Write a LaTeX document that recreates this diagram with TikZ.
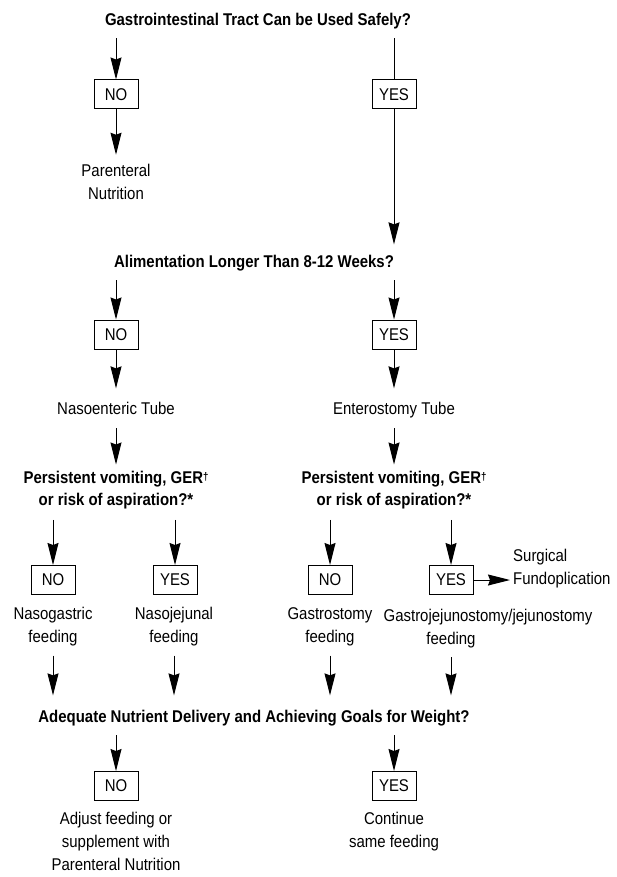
\documentclass[tikz,border=0pt]{standalone}
\usepackage{fontspec}
\setmainfont{Liberation Sans}[FakeStretch=0.88]
\usetikzlibrary{arrows.meta}
\newcommand{\sv}{\rule[-4pt]{0pt}{16.5pt}}
\newcommand{\dg}{\raisebox{3pt}{\fontsize{11}{11}\selectfont †}}
\begin{document}
\begin{tikzpicture}[x=1pt,y=-1pt,
  txt/.style={inner sep=0pt, align=center, font=\fontsize{17}{23}\selectfont},
  ttl/.style={inner sep=0pt, align=center, font=\fontsize{17}{22.5}\selectfont\bfseries},
  box/.style={draw, line width=1pt, minimum width=44pt, minimum height=29pt, inner sep=0pt, font=\fontsize{17}{18}\selectfont},
  arr/.style={line width=1pt, -{Stealth[length=22pt,width=11pt,inset=2pt]}},
  ln/.style={line width=1pt}]
\useasboundingbox (0,0) rectangle (617,877);

% level 1
\node[ttl] (t1) at (258,20.8) {\sv Gastrointestinal Tract Can be Used Safely?};
\node[box] (no1) at (116,94.5) {NO};
\node[box] (yes1) at (394,94.5) {YES};
\node[txt] (pn) at (116,183.7) {\sv Parenteral\\Nutrition\sv};

% level 2
\node[ttl] (t2) at (254,262.8) {\sv Alimentation Longer Than 8-12 Weeks?};
\node[box] (no2) at (116,334.5) {NO};
\node[box] (yes2) at (394,334.5) {YES};
\node[txt] (ne) at (116,409.8) {\sv Nasoenteric Tube};
\node[txt] (et) at (394,409.8) {\sv Enterostomy Tube};
\node[ttl] (pv1) at (116,490.2) {\sv Persistent vomiting, GER\dg\\or risk of aspiration?*\sv};
\node[ttl] (pv2) at (394,490.2) {\sv Persistent vomiting, GER\dg\\or risk of aspiration?*\sv};

% level 3
\node[box] (no3a) at (53,580) {NO};
\node[box] (yes3a) at (175,580) {YES};
\node[box] (no3b) at (330,580) {NO};
\node[box] (yes3b) at (451,580) {YES};
\node[txt, anchor=west, align=left] (sf) at (513,568.7) {\sv Surgical\\Fundoplication\sv};
\node[txt] (ng) at (53,626.7) {\sv Nasogastric\\feeding\sv};
\node[txt] (nj) at (174,626.7) {\sv Nasojejunal\\feeding\sv};
\node[txt] (gs) at (330,626.7) {\sv Gastrostomy\\feeding\sv};
\node[txt] (gja) at (488,616.8) {\sv Gastrojejunostomy/jejunostomy};
\node[txt] (gjb) at (451,639.8) {\sv feeding};

% level 4
\node[ttl] (t3) at (254,717.8) {\sv Adequate Nutrient Delivery and Achieving Goals for Weight?};
\node[box] (no4) at (116,786) {NO};
\node[box] (yes4) at (394,786) {YES};
\node[txt] (adj) at (116,843.2) {\sv Adjust feeding or\\supplement with\\Parenteral Nutrition\sv};
\node[txt] (cont) at (394,831.7) {\sv Continue\\same feeding\sv};

% connectors
\draw[arr, shorten <=9pt] (t1.south -| no1) -- (no1.north);
\draw[ln, shorten <=9pt] (t1.south -| yes1) -- (yes1.north);
\draw[arr, shorten >=9pt] (no1.south) -- (pn.north);
\draw[arr, shorten >=10pt] (yes1.south) -- (yes1.south |- t2.north);

\draw[arr, shorten <=9pt] (t2.south -| no2) -- (no2.north);
\draw[arr, shorten <=9pt] (t2.south -| yes2) -- (yes2.north);
\draw[arr, shorten >=13pt] (no2.south) -- (ne.north);
\draw[arr, shorten >=13pt] (yes2.south) -- (et.north);
\draw[arr, shorten <=10pt, shorten >=6pt] (ne.south) -- (pv1.north);
\draw[arr, shorten <=10pt, shorten >=6pt] (et.south) -- (pv2.north);

\draw[arr, shorten <=10pt] (pv1.south -| no3a) -- (no3a.north);
\draw[arr, shorten <=10pt] (pv1.south -| yes3a) -- (yes3a.north);
\draw[arr, shorten <=10pt] (pv2.south -| no3b) -- (no3b.north);
\draw[arr, shorten <=10pt] (pv2.south -| yes3b) -- (yes3b.north);
\draw[arr, shorten >=3pt] (yes3b.east) -- (yes3b.east -| sf.west);

\draw[arr, shorten <=9pt, shorten >=14pt] (ng.south) -- (ng.south |- t3.north);
\draw[arr, shorten <=9pt, shorten >=14pt] (nj.south) -- (nj.south |- t3.north);
\draw[arr, shorten <=9pt, shorten >=14pt] (gs.south) -- (gs.south |- t3.north);
\draw[arr, shorten <=9pt, shorten >=14pt] (gjb.south) -- (gjb.south |- t3.north);

\draw[arr, shorten <=9pt] (t3.south -| no4) -- (no4.north);
\draw[arr, shorten <=9pt] (t3.south -| yes4) -- (yes4.north);
\end{tikzpicture}
\end{document}
